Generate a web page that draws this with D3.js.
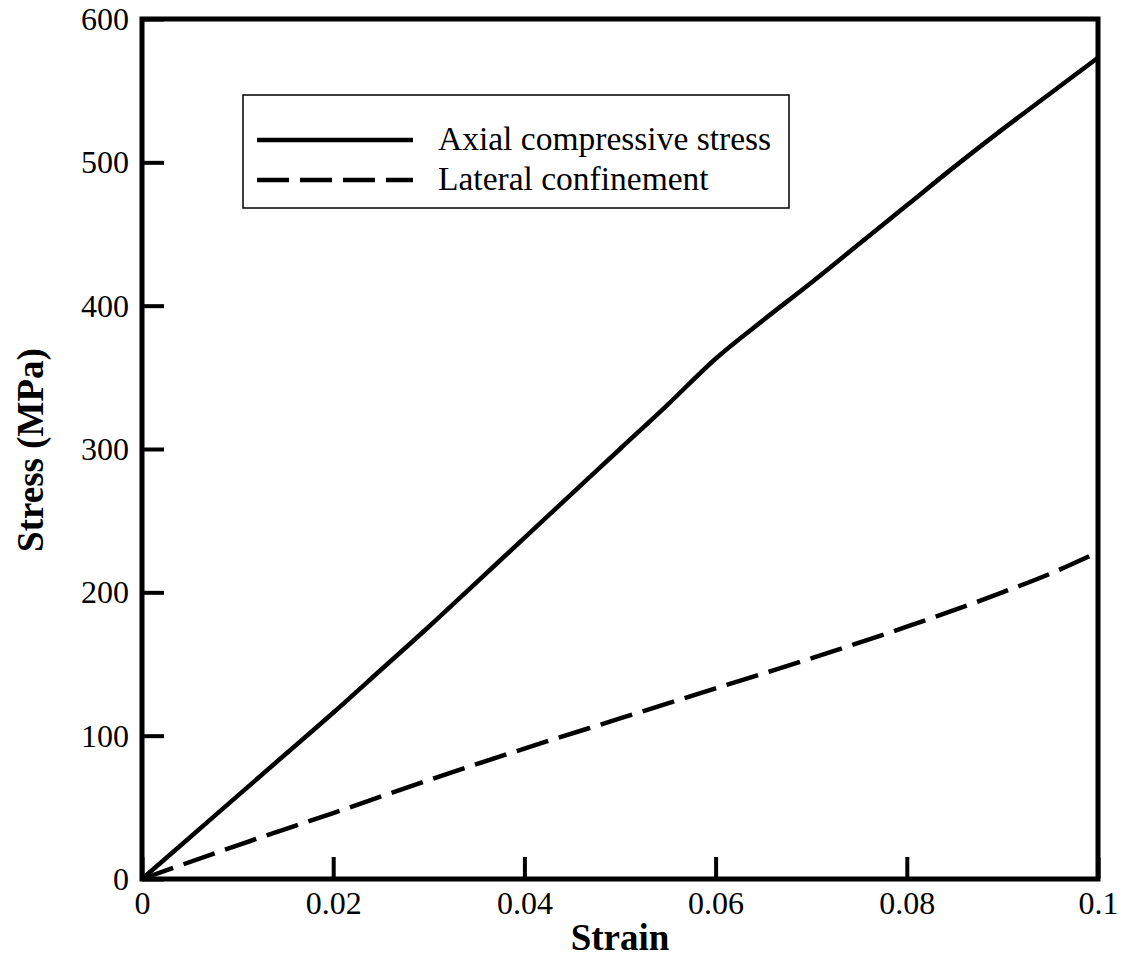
<!DOCTYPE html>
<html>
<head>
<meta charset="utf-8">
<script src="https://cdn.jsdelivr.net/npm/d3@7/dist/d3.min.js"></script>
<style>
  html, body { margin: 0; padding: 0; background: #fff; }
  svg { display: block; }
  text { font-family: "Liberation Serif", "Times New Roman", serif; fill: #000; }
</style>
</head>
<body>
<svg id="chart" width="1129" height="959"></svg>
<script>
// Strain values (x) shared by the axial curve
const strain = [0, 0.005, 0.01, 0.015, 0.02, 0.025, 0.03, 0.035, 0.04, 0.045, 0.05,
                0.055, 0.06, 0.065, 0.07, 0.075, 0.08, 0.085, 0.09, 0.095, 0.1];
// Axial compressive stress (MPa)
const axialStress = [0, 29, 58, 87, 116, 146, 176, 207, 238, 269, 300,
                     331, 363, 390, 416, 443, 470, 497, 523, 548, 573];
// Lateral confinement (MPa)
const lateralStrain = [0, 0.01, 0.02, 0.03, 0.04, 0.05, 0.06, 0.07, 0.08, 0.09, 0.095, 0.1];
const lateralStress = [0, 23.5, 46, 69, 91, 112, 133, 154, 176, 200, 213, 228];

const xTicks = [0, 0.02, 0.04, 0.06, 0.08, 0.1];
const xTickLabels = ["0", "0.02", "0.04", "0.06", "0.08", "0.1"];
const yTicks = [0, 100, 200, 300, 400, 500, 600];
const yTickLabels = ["0", "100", "200", "300", "400", "500", "600"];

const seriesNames = ["Axial compressive stress", "Lateral confinement"];

const svg = d3.select("#chart");
const plot = { left: 142, right: 1098, top: 19, bottom: 879 };

const x = d3.scaleLinear().domain([0, 0.1]).range([plot.left, plot.right]);
const y = d3.scaleLinear().domain([0, 600]).range([plot.bottom, plot.top]);

// Axes with inward ticks
const xAxis = d3.axisBottom(x)
  .tickValues(xTicks)
  .tickFormat((d, i) => xTickLabels[i])
  .tickSizeInner(-22).tickSizeOuter(0).tickPadding(34);
const yAxis = d3.axisLeft(y)
  .tickValues(yTicks)
  .tickFormat((d, i) => yTickLabels[i])
  .tickSizeInner(-22).tickSizeOuter(0).tickPadding(35);

const gx = svg.append("g").attr("transform", `translate(0,${plot.bottom})`).call(xAxis);
const gy = svg.append("g").attr("transform", `translate(${plot.left},0)`).call(yAxis);

[gx, gy].forEach(g => {
  g.select(".domain").remove();
  g.selectAll(".tick line").attr("stroke", "#000").attr("stroke-width", 4);
  g.selectAll(".tick text")
    .style("font-family", '"Liberation Serif", "Times New Roman", serif')
    .style("font-size", "32px").attr("fill", "#000");
});
gx.selectAll(".tick text").attr("dy", "0").attr("y", 35);
gy.selectAll(".tick text").attr("x", -13).attr("dy", "0.33em");

// Curves
const lineGen = d3.line().x(d => x(d[0])).y(d => y(d[1])).curve(d3.curveMonotoneX);

svg.append("path")
  .datum(strain.map((s, i) => [s, axialStress[i]]))
  .attr("d", lineGen)
  .attr("fill", "none").attr("stroke", "#000").attr("stroke-width", 4.5);

svg.append("path")
  .datum(lateralStrain.map((s, i) => [s, lateralStress[i]]))
  .attr("d", lineGen)
  .attr("fill", "none").attr("stroke", "#000").attr("stroke-width", 4.5)
  .attr("stroke-dasharray", "33,11");

// Plot frame
svg.append("rect")
  .attr("x", plot.left).attr("y", plot.top)
  .attr("width", plot.right - plot.left).attr("height", plot.bottom - plot.top)
  .attr("fill", "none").attr("stroke", "#000").attr("stroke-width", 5);

// Axis titles
svg.append("text")
  .attr("x", (plot.left + plot.right) / 2).attr("y", 950)
  .attr("text-anchor", "middle")
  .style("font-size", "37px").style("font-weight", "bold")
  .text("Strain");

svg.append("text")
  .attr("transform", "translate(43,450) rotate(-90)")
  .attr("text-anchor", "middle")
  .style("font-size", "37px").style("font-weight", "bold")
  .text("Stress (MPa)");

// Legend
const legend = svg.append("g");
legend.append("rect")
  .attr("x", 243).attr("y", 95).attr("width", 546).attr("height", 113)
  .attr("fill", "#fff").attr("stroke", "#000").attr("stroke-width", 1.5);

const legendRows = [
  { name: seriesNames[0], dash: null, ly: 140, ty: 150 },
  { name: seriesNames[1], dash: "32,11", ly: 180, ty: 190 }
];
legendRows.forEach(r => {
  legend.append("line")
    .attr("x1", 257).attr("x2", 413).attr("y1", r.ly).attr("y2", r.ly)
    .attr("stroke", "#000").attr("stroke-width", 4.5)
    .attr("stroke-dasharray", r.dash);
  legend.append("text")
    .attr("x", 438).attr("y", r.ty)
    .style("font-size", "33.5px")
    .text(r.name);
});
</script>
</body>
</html>
